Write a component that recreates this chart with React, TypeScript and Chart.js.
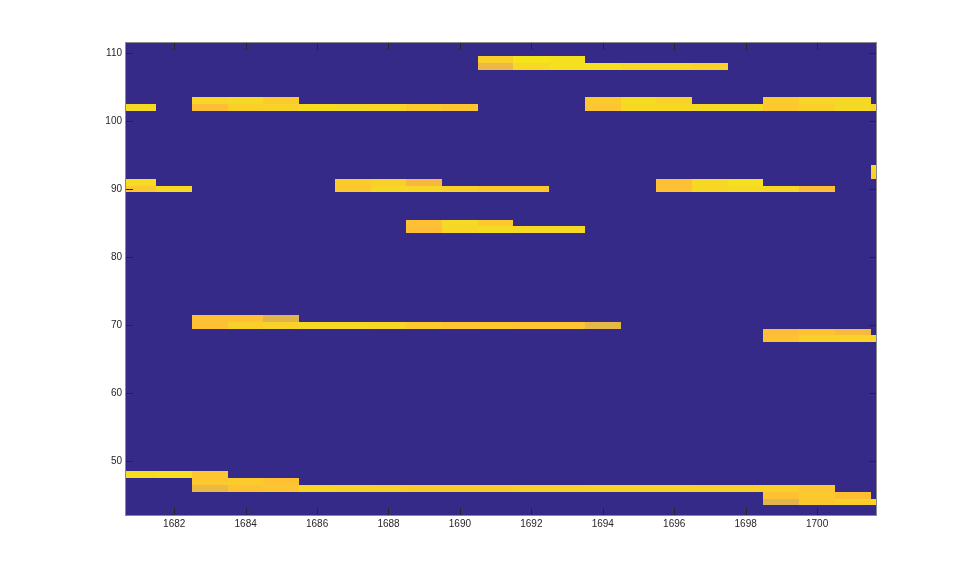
import React, { useEffect, useRef } from "react";
import { Chart, registerables } from "chart.js";

Chart.register(...registerables);

// ---- data ----
const xTickValues = [1682, 1684, 1686, 1688, 1690, 1692, 1694, 1696, 1698, 1700];
const yTickValues = [50, 60, 70, 80, 90, 100, 110];
const xMin = 1680.65;
const xMax = 1701.65;
const yMin = 42.1;
const yMax = 111.45;

// note segments: pitch row, first time column, per-column intensities
const segPitch = [109, 108, 103, 103, 103, 102, 102, 102, 93, 92, 91, 91, 91, 90, 90, 90, 85, 84, 71, 70, 69, 68, 48, 47, 46, 45, 44];
const segStart = [1691, 1691, 1683, 1694, 1699, 1681, 1683, 1694, 1702, 1702, 1681, 1687, 1696, 1681, 1687, 1696, 1689, 1689, 1683, 1683, 1699, 1699, 1681, 1683, 1683, 1699, 1699];
const segValues = [
  [0.94, 1.0, 0.99],
  [0.84, 0.97, 0.99, 0.99, 0.97, 0.97, 0.95],
  [0.96, 0.97, 0.93],
  [0.93, 0.98, 0.95],
  [0.93, 0.96, 0.97],
  [0.97],
  [0.89, 0.94, 0.95, 0.98, 0.97, 0.96, 0.93, 0.91],
  [0.91, 0.97, 0.97, 0.97, 0.97, 0.92, 0.94, 0.97, 0.95],
  [0.97],
  [0.94],
  [0.98],
  [0.93, 0.94, 0.86],
  [0.9, 0.97, 0.99],
  [0.92, 0.97],
  [0.92, 0.96, 0.96, 0.94, 0.92, 0.92],
  [0.9, 0.96, 0.97, 0.96, 0.89],
  [0.9, 0.97, 0.92],
  [0.89, 0.96, 0.98, 0.97, 0.97],
  [0.9, 0.9, 0.82],
  [0.9, 0.94, 0.95, 0.97, 0.97, 0.96, 0.93, 0.91, 0.92, 0.91, 0.91, 0.83],
  [0.89, 0.9, 0.87],
  [0.9, 0.94, 0.95, 0.96],
  [0.98, 0.99, 0.91],
  [0.92, 0.93, 0.9],
  [0.84, 0.9, 0.91, 0.96, 0.95, 0.94, 0.93, 0.93, 0.93, 0.94, 0.94, 0.95, 0.95, 0.95, 0.94, 0.94, 0.94, 0.91],
  [0.9, 0.92, 0.89],
  [0.82, 0.92, 0.94, 0.95],
];

// colormap (upper end of parula) and background
const bgColor = "rgb(53,42,135)";
const cmapStops: [number, number[]][] = [
  [0.82, [224, 182, 76]],
  [0.86, [246, 184, 62]],
  [0.89, [253, 190, 54]],
  [0.92, [252, 200, 46]],
  [0.95, [248, 210, 40]],
  [0.97, [246, 217, 36]],
  [1.0, [245, 227, 28]],
];

function colorFor(v: number): string {
  if (v <= cmapStops[0][0]) return `rgb(${cmapStops[0][1].join(",")})`;
  for (let i = 1; i < cmapStops.length; i++) {
    const [v1, c1] = cmapStops[i];
    const [v0, c0] = cmapStops[i - 1];
    if (v <= v1) {
      const t = (v - v0) / (v1 - v0);
      const c = c0.map((a, k) => Math.round(a + (c1[k] - a) * t));
      return `rgb(${c.join(",")})`;
    }
  }
  return `rgb(${cmapStops[cmapStops.length - 1][1].join(",")})`;
}

const cells: { x: number; y: number; v: number }[] = [];
segPitch.forEach((p, i) => {
  segValues[i].forEach((v, k) => {
    cells.push({ x: segStart[i] + k, y: p, v });
  });
});

const heatmapPlugin = {
  id: "heatmapCells",
  beforeDatasetsDraw(chart: any) {
    const { ctx, chartArea, scales } = chart;
    const xs = scales.x;
    const ys = scales.y;
    ctx.save();
    ctx.beginPath();
    ctx.rect(chartArea.left, chartArea.top, chartArea.right - chartArea.left, chartArea.bottom - chartArea.top);
    ctx.clip();
    ctx.fillStyle = bgColor;
    ctx.fillRect(chartArea.left, chartArea.top, chartArea.right - chartArea.left, chartArea.bottom - chartArea.top);
    const data = chart.data.datasets[0].data as { x: number; y: number; v: number }[];
    for (const d of data) {
      const x0 = Math.round(xs.getPixelForValue(d.x - 0.5));
      const x1 = Math.round(xs.getPixelForValue(d.x + 0.5));
      const y0 = Math.round(ys.getPixelForValue(d.y + 0.5));
      const y1 = Math.round(ys.getPixelForValue(d.y - 0.5));
      ctx.fillStyle = colorFor(d.v);
      ctx.fillRect(x0, y0, x1 - x0, y1 - y0);
    }
    ctx.restore();
  },
  afterDraw(chart: any) {
    const { ctx, chartArea, scales } = chart;
    const { left, right, top, bottom } = chartArea;
    const tl = 7;
    ctx.save();
    ctx.strokeStyle = "#262626";
    ctx.lineWidth = 1;
    ctx.beginPath();
    for (const t of scales.x.ticks) {
      const px = Math.round(scales.x.getPixelForValue(t.value)) + 0.5;
      ctx.moveTo(px, bottom);
      ctx.lineTo(px, bottom - tl);
      ctx.moveTo(px, top);
      ctx.lineTo(px, top + tl);
    }
    for (const t of scales.y.ticks) {
      const py = Math.round(scales.y.getPixelForValue(t.value)) + 0.5;
      ctx.moveTo(left, py);
      ctx.lineTo(left + tl, py);
      ctx.moveTo(right, py);
      ctx.lineTo(right - tl, py);
    }
    ctx.stroke();
    ctx.strokeStyle = "#8a8a8a";
    ctx.strokeRect(left - 0.5, top - 0.5, right - left + 1, bottom - top + 1);
    ctx.restore();
  },
};

export default function App() {
  const ref = useRef<HTMLCanvasElement | null>(null);
  useEffect(() => {
    if (!ref.current) return;
    const chart = new Chart(ref.current, {
      type: "scatter",
      data: {
        datasets: [
          {
            data: cells as any,
            pointRadius: 0,
            pointHoverRadius: 0,
            showLine: false,
          },
        ],
      },
      options: {
        animation: false,
        responsive: false,
        devicePixelRatio: 1,
        layout: { padding: { top: 43, right: 92, left: 0, bottom: 0 } },
        plugins: { legend: { display: false }, tooltip: { enabled: false } },
        events: [],
        scales: {
          x: {
            type: "linear",
            min: xMin,
            max: xMax,
            grid: { display: false, drawTicks: false },
            border: { display: false },
            afterBuildTicks: (s: any) => {
              s.ticks = xTickValues.map((v) => ({ value: v }));
            },
            afterFit: (s: any) => {
              s.height = 64;
            },
            ticks: {
              color: "#262626",
              padding: 3,
              maxRotation: 0,
              autoSkip: false,
              font: { family: "'Liberation Sans', Arial, sans-serif", size: 10 },
              callback: (v: any) => String(v),
            },
          },
          y: {
            type: "linear",
            min: yMin,
            max: yMax,
            grid: { display: false, drawTicks: false },
            border: { display: false },
            afterBuildTicks: (s: any) => {
              s.ticks = yTickValues.map((v) => ({ value: v }));
            },
            afterFit: (s: any) => {
              s.width = 126;
            },
            ticks: {
              color: "#262626",
              padding: 4,
              autoSkip: false,
              font: { family: "'Liberation Sans', Arial, sans-serif", size: 10 },
              callback: (v: any) => String(v),
            },
          },
        },
      },
      plugins: [heatmapPlugin],
    });
    return () => chart.destroy();
  }, []);
  return (
    <div style={{ position: "fixed", left: 0, top: 0, width: 968, height: 579, background: "#fff" }}>
      <canvas ref={ref} width={968} height={579} style={{ display: "block" }} />
    </div>
  );
}
